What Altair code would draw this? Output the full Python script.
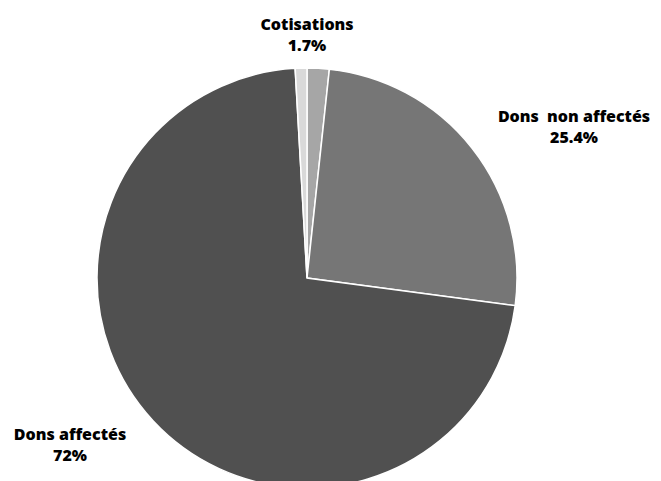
import altair as alt
import pandas as pd

categories = ["Cotisations", "Dons non affectés", "Dons affectés", "Autres"]
values = [1.7, 25.4, 72.0, 0.9]
colors = ["#a6a6a6", "#767676", "#505050", "#d9d9d9"]
label_texts = ["Cotisations\n1.7%", "Dons\u00a0 non affectés\n25.4%", "Dons affectés\n72%"]

df = pd.DataFrame({"cat": categories, "val": values, "ord": list(range(len(categories)))})

CX, CY, R = 299, 270, 210

pie = alt.Chart(df).mark_arc(stroke="white", strokeWidth=1.5).encode(
    theta=alt.Theta("val:Q", stack=True),
    order=alt.Order("ord:Q"),
    color=alt.Color("cat:N", scale=alt.Scale(domain=categories, range=colors), legend=None),
    x=alt.value(CX),
    y=alt.value(CY),
    radius=alt.value(R),
)

label_pos = [(299, 17), (566, 109), (62, 427)]
layers = [pie]
for txt, (lx, ly) in zip(label_texts, label_pos):
    layers.append(
        alt.Chart(pd.DataFrame({"t": [txt]})).mark_text(
            font="Open Sans", fontWeight=800, fontSize=16, color="black",
            align="center", baseline="middle", lineBreak="\n", lineHeight=21,
        ).encode(text="t:N", x=alt.value(lx), y=alt.value(ly))
    )

chart = alt.layer(*layers).properties(
    width=645, height=473, padding=0, autosize=alt.AutoSizeParams(type="none")
).configure_view(stroke=None)

chart.save("out.html", embed_options={"renderer": "svg", "actions": False})
